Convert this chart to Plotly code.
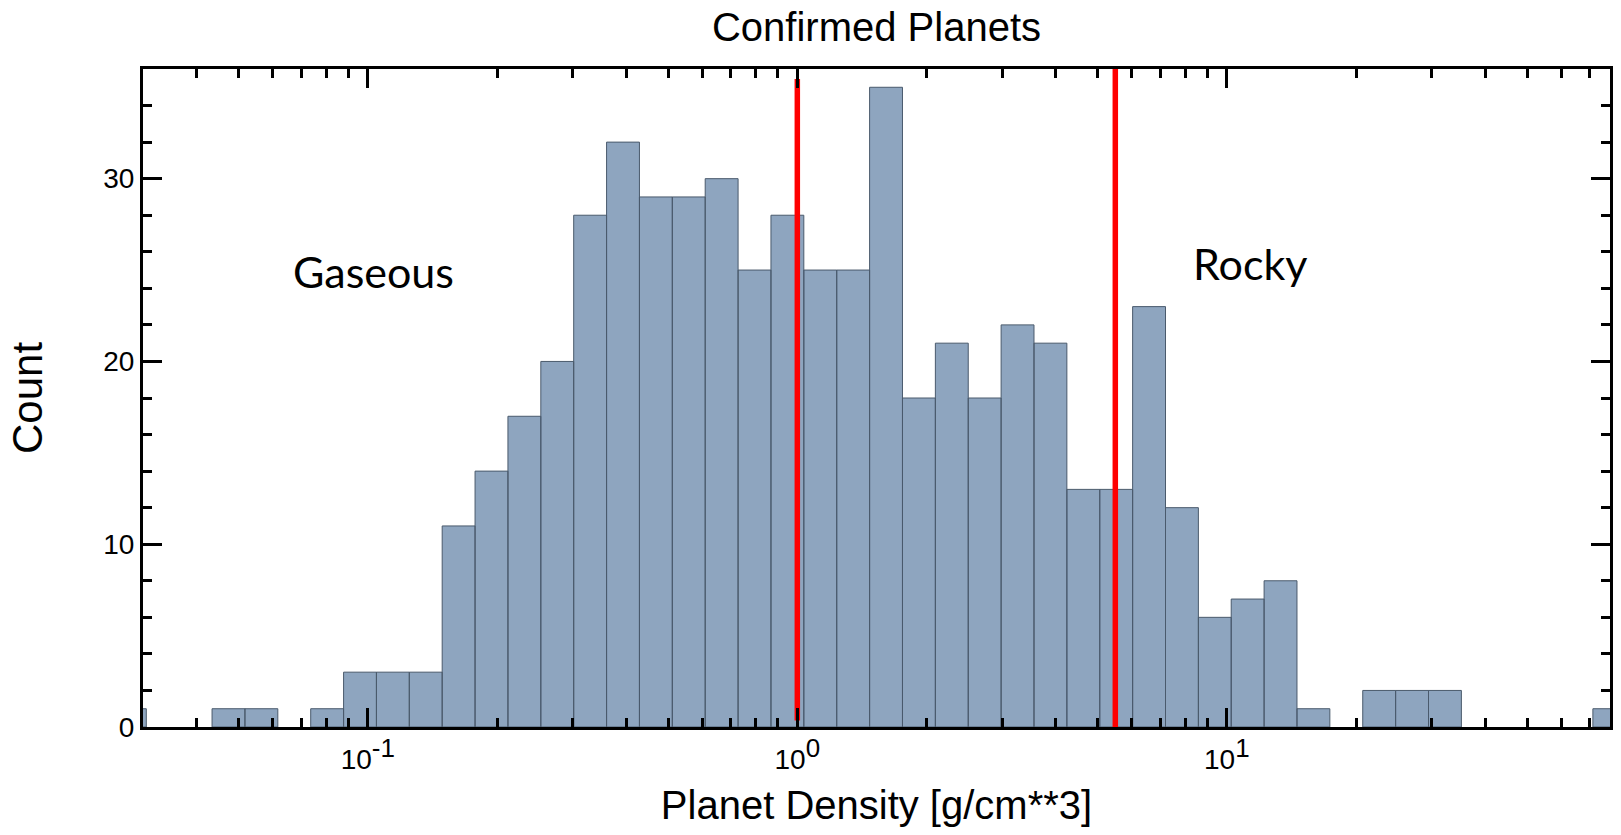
import plotly.graph_objects as go

# ---- data ----
# histogram bin edges (planet density, g/cm^3), log-spaced
bin_edges = [0.02557, 0.03050, 0.03637, 0.04339, 0.05175, 0.06173, 0.07363, 0.08782,
             0.10473, 0.12491, 0.14899, 0.17771, 0.21196, 0.25282, 0.30154, 0.35966,
             0.42898, 0.51166, 0.61029, 0.72792, 0.86823, 1.03545, 1.23522, 1.47331,
             1.75727, 2.09597, 2.49998, 2.98183, 3.55655, 4.24208, 5.05972, 6.03492,
             7.19831, 8.58575, 10.2374, 12.2114, 14.5650, 17.3723, 20.7219, 24.7157,
             29.4794, 35.1618, 41.9389, 50.0222, 59.6659, 71.1654, 84.8821]
counts = [1, 0, 0, 1, 1, 0, 1, 3, 3, 3,
          11, 14, 17, 20, 28, 32, 29, 29, 30, 25,
          28, 25, 25, 35, 18, 21, 18, 22, 21, 13,
          13, 23, 12, 6, 7, 8, 1, 0, 2, 2,
          2, 0, 0, 0, 0, 1]
# density boundaries (red lines)
boundary_density = [1.0, 5.5]
boundary_ymin = [0.35, 0.0]
boundary_ymax = [35.45, 36.0]
# text
x_tick_vals = [0.1, 1, 10]
x_tick_exp = ["-1", "0", "1"]
y_tick_vals = [0, 10, 20, 30]
region_labels = ["Gaseous", "Rocky"]

x_tick_text = ['10<sup><span style="font-size:26px">%s</span></sup>' % e for e in x_tick_exp]

x_minor = [m * 10.0 ** e for e in (-2, -1, 0, 1) for m in range(2, 10)]
x_minor = [v for v in x_minor if 0.03 <= v <= 75]

FONT = "Liberation Sans, Arial, sans-serif"

xs, ys = [], []
for i, c in enumerate(counts):
    if c == 0:
        continue
    l, r = bin_edges[i], bin_edges[i + 1]
    xs += [l, l, r, r, l, None]
    ys += [0, c, c, 0, 0, None]

fig = go.Figure()
fig.add_trace(go.Scatter(
    x=xs, y=ys, mode="lines", fill="toself",
    fillcolor="#8ea5bf", line=dict(color="#4a5a6c", width=1),
    hoverinfo="skip", showlegend=False))

for xd, y0, y1 in zip(boundary_density, boundary_ymin, boundary_ymax):
    fig.add_trace(go.Scatter(
        x=[xd, xd], y=[y0, y1], mode="lines",
        line=dict(color="#ff0000", width=5.5),
        hoverinfo="skip", showlegend=False))

axis_common = dict(
    showline=True, linewidth=3, linecolor="black", mirror="allticks",
    ticks="inside", ticklen=19, tickwidth=3, tickcolor="black",
    showgrid=False, zeroline=False,
    tickfont=dict(family=FONT, size=28, color="black"),
)

fig.update_layout(
    width=1621, height=835,
    margin=dict(l=143, r=8, t=69, b=108),
    paper_bgcolor="white", plot_bgcolor="white",
    font=dict(family=FONT, color="black"),
    title=dict(text="Confirmed Planets", x=0.5, xref="paper", xanchor="center",
               y=1 - 27 / 835, yref="container", yanchor="middle",
               font=dict(family=FONT, size=40, color="black")),
    xaxis=dict(type="log", range=[-1.5234, 1.8921],
               tickmode="array", tickvals=x_tick_vals, ticktext=x_tick_text,
               ticklabelstandoff=5,
               minor=dict(tickmode="array", tickvals=x_minor, ticks="inside",
                          ticklen=9, tickwidth=3, tickcolor="black", showgrid=False),
               title=dict(text="Planet Density [g/cm**3]", standoff=18,
                          font=dict(family=FONT, size=40, color="black")),
               **axis_common),
    yaxis=dict(range=[0, 36], tickmode="array", tickvals=y_tick_vals,
               minor=dict(dtick=2, tick0=0, ticks="inside", ticklen=9, tickwidth=3,
                          tickcolor="black", showgrid=False),
               title=dict(text="Count", standoff=48,
                          font=dict(family=FONT, size=42, color="black")),
               **axis_common),
)

ann_font = dict(family="Lato, Carlito, Calibri, sans-serif", size=43, color="black")
fig.add_annotation(text=region_labels[0], xref="paper", yref="paper",
                   x=0.157, y=0.6925, xanchor="center", yanchor="middle",
                   showarrow=False, font=ann_font)
fig.add_annotation(text=region_labels[1], xref="paper", yref="paper",
                   x=0.7543, y=0.7041, xanchor="center", yanchor="middle",
                   showarrow=False, font=ann_font)

fig.write_html("out.html")
